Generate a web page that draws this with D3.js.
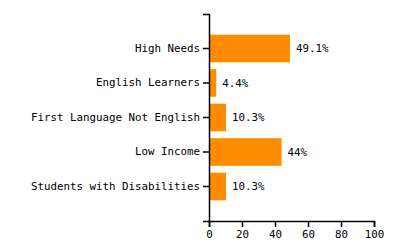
<!DOCTYPE html>
<html>
<head>
<meta charset="utf-8">
<script src="https://cdn.jsdelivr.net/npm/d3@7"></script>
<style>
  body { margin: 0; background: #fff; }
  text { font-family: "DejaVu Sans Mono", monospace; font-size: 10.8px; fill: #000; }
</style>
</head>
<body>
<svg id="chart" width="400" height="250"></svg>
<script>
// groups and their percentage
var groups = ["High Needs", "English Learners", "First Language Not English", "Low Income", "Students with Disabilities"];
var percents = [49.1, 4.4, 10.3, 44, 10.3];
var labels = ["49.1%", "4.4%", "10.3%", "44%", "10.3%"];
var xTicks = [0, 20, 40, 60, 80, 100];

var margin = { top: 14, right: 26, bottom: 29, left: 209 };
var width = 400 - margin.left - margin.right;
var height = 250 - margin.top - margin.bottom;

var svg = d3.select("#chart");
var g = svg.append("g")
  .attr("transform", "translate(" + margin.left + "," + margin.top + ")");

var xScale = d3.scaleLinear().domain([0, 100]).range([0, width]);
var yScale = d3.scaleBand().domain(groups).range([0, height])
  .paddingInner(0.2).paddingOuter(0.6);

// bars
g.selectAll(".bar")
  .data(groups)
  .enter()
  .append("rect")
  .attr("class", "bar")
  .attr("x", 0)
  .attr("y", (d) => yScale(d))
  .attr("width", (d, i) => xScale(percents[i]))
  .attr("height", yScale.bandwidth())
  .style("fill", "#ff8c00");

// value labels next to bars
g.selectAll(".val")
  .data(groups)
  .enter()
  .append("text")
  .attr("class", "val")
  .attr("x", (d, i) => xScale(percents[i]) + 6)
  .attr("y", (d) => yScale(d) + yScale.bandwidth() / 2)
  .attr("dy", "0.35em")
  .text((d, i) => labels[i]);

// axes
var yAxis = g.append("g").call(d3.axisLeft(yScale).tickSize(6).tickPadding(3));
var xAxis = g.append("g")
  .attr("transform", "translate(0," + height + ")")
  .call(d3.axisBottom(xScale).tickValues(xTicks).tickSize(6).tickPadding(3));

[yAxis, xAxis].forEach(function (a) {
  a.selectAll("text").style("font-family", "DejaVu Sans Mono, monospace").style("font-size", "10.8px").style("fill", "#000");
  a.selectAll("path, line").style("stroke", "#000").style("stroke-width", 1.5);
});
</script>
</body>
</html>
